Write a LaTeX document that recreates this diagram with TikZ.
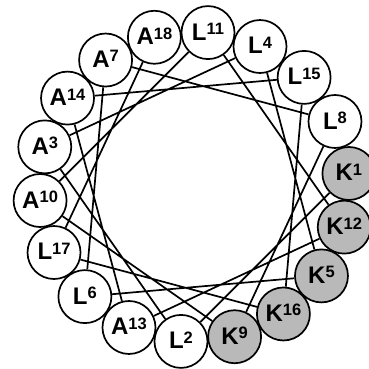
\documentclass[tikz,border=0pt]{standalone}
\usepackage{fontspec}
\setmainfont{Liberation Sans}
\definecolor{kfill}{RGB}{185,185,185}
\newcommand{\resid}[2]{{\fontsize{24}{24}\selectfont\bfseries #1}\raisebox{5.5pt}{\fontsize{16.5}{16.5}\selectfont\bfseries #2}}
\tikzset{resnode/.style={circle,draw,line width=1.7pt,fill=white,minimum size=53pt,inner sep=0pt,text depth=2pt},
  lysnode/.style={resnode,fill=kfill}}

\begin{document}
\begin{tikzpicture}[x=1pt,y=1pt]
\useasboundingbox (-194.5,-182) rectangle (173.5,187);
\node[lysnode] (K1) at (5:155) {\resid{K}{1}};
\node[resnode] (L2) at (265:155) {\resid{L}{2}};
\node[resnode] (A3) at (165:155) {\resid{A}{3}};
\node[resnode] (L4) at (65:155) {\resid{L}{4}};
\node[lysnode] (K5) at (325:155) {\resid{K}{5}};
\node[resnode] (L6) at (225:155) {\resid{L}{6}};
\node[resnode] (A7) at (125:155) {\resid{A}{7}};
\node[resnode] (L8) at (25:155) {\resid{L}{8}};
\node[lysnode] (K9) at (285:155) {\resid{K}{9}};
\node[resnode] (A10) at (185:155) {\resid{A}{10}};
\node[resnode] (L11) at (85:155) {\resid{L}{11}};
\node[lysnode] (K12) at (345:155) {\resid{K}{12}};
\node[resnode] (A13) at (245:155) {\resid{A}{13}};
\node[resnode] (A14) at (145:155) {\resid{A}{14}};
\node[resnode] (L15) at (45:155) {\resid{L}{15}};
\node[lysnode] (K16) at (305:155) {\resid{K}{16}};
\node[resnode] (L17) at (205:155) {\resid{L}{17}};
\node[resnode] (A18) at (105:155) {\resid{A}{18}};
\draw[line width=1.7pt] (K1) -- (L2) -- (A3) -- (L4) -- (K5) -- (L6) -- (A7) -- (L8) -- (K9)
  -- (A10) -- (L11) -- (K12) -- (A13) -- (A14) -- (L15) -- (K16) -- (L17) -- (A18);
\end{tikzpicture}
\end{document}
